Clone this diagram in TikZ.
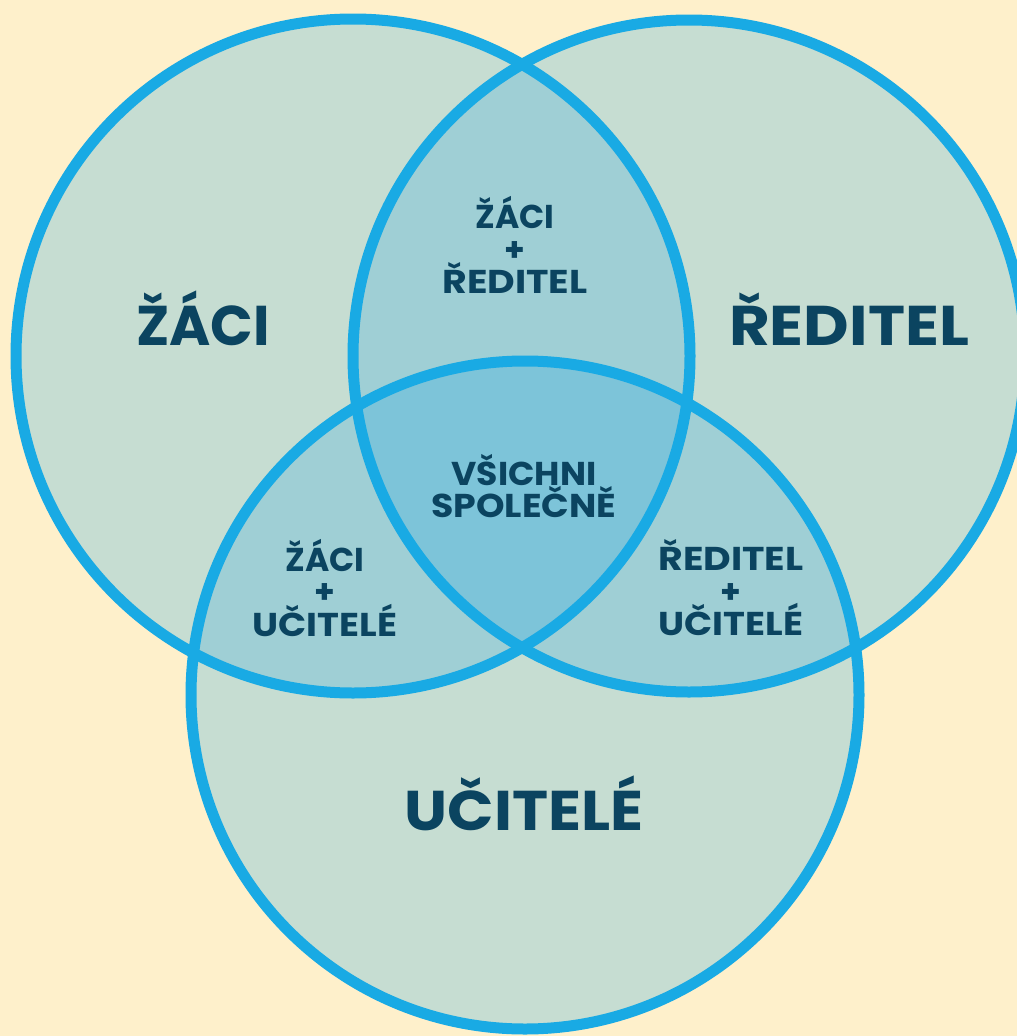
\documentclass[tikz,border=0pt]{standalone}
\usepackage{fontspec}
\setmainfont{Poppins}
\definecolor{bgc}{HTML}{FEF0CB}
\definecolor{cone}{HTML}{C6DDD2}
\definecolor{ctwo}{HTML}{9FCFD5}
\definecolor{cthree}{HTML}{7DC4D9}
\definecolor{ringc}{HTML}{19AAE4}
\definecolor{txtc}{HTML}{0B4460}
\newcommand{\hsx}[2]{\scalebox{#1}[1]{#2}}
\tikzset{
  ring/.style={draw=ringc, line width=11pt},
  biglabel/.style={text=txtc, font=\fontsize{56}{60}\selectfont\bfseries, inner sep=0pt},
  smalllabel/.style={text=txtc, font=\fontsize{33}{32.5}\selectfont\bfseries, align=center, inner sep=0pt},
}
\begin{document}
\begin{tikzpicture}[x=1pt,y=-1pt]
\path[use as bounding box] (0,0) rectangle (1017,1036);
\clip (0,0) rectangle (1017,1036);
\fill[bgc] (0,0) rectangle (1017,1036);
\coordinate (A) at (353,356);
\coordinate (B) at (689,356);
\coordinate (C) at (525,695);
\def\ra{337pt}\def\rb{336pt}\def\rc{334pt}
\fill[cone] (A) circle[radius=\ra];
\fill[cone] (B) circle[radius=\rb];
\fill[cone] (C) circle[radius=\rc];
\begin{scope}
  \clip (A) circle[radius=\ra];
  \fill[ctwo] (B) circle[radius=\rb];
  \fill[ctwo] (C) circle[radius=\rc];
\end{scope}
\begin{scope}
  \clip (B) circle[radius=\rb];
  \fill[ctwo] (C) circle[radius=\rc];
\end{scope}
\begin{scope}
  \clip (A) circle[radius=\ra];
  \clip (B) circle[radius=\rb];
  \fill[cthree] (C) circle[radius=\rc];
\end{scope}
\draw[ring] (A) circle[radius=\ra];
\draw[ring] (B) circle[radius=\rb];
\draw[ring] (C) circle[radius=\rc];
\node[biglabel, anchor=base] (zaci) at (203,345) {ŽÁCI};
\node[biglabel, anchor=base] (reditel) at (849,345) {\hsx{1.12}{ŘEDITEL}};
\node[biglabel, anchor=base] (ucitele) at (524,830) {\hsx{1.09}{UČITELÉ}};
\node[smalllabel] (zr) at (515,245) {ŽÁCI\\+\\\hsx{1.15}{ŘEDITEL}};
\node[smalllabel] (all) at (524,486) {\hsx{1.05}{VŠICHNI}\\\hsx{1.10}{SPOLEČNĚ}};
\node[smalllabel] (zu) at (325,588) {ŽÁCI\\+\\\hsx{1.12}{UČITELÉ}};
\node[smalllabel] (ru) at (731,588) {\hsx{1.15}{ŘEDITEL}\\+\\\hsx{1.12}{UČITELÉ}};
\end{tikzpicture}
\end{document}
